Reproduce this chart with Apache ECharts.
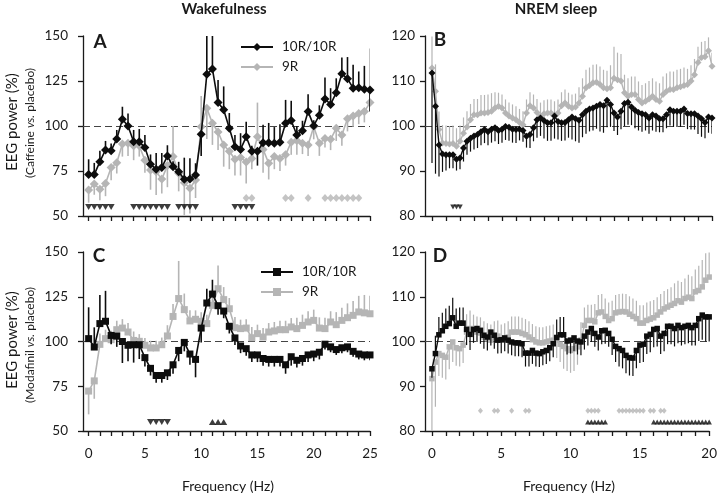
<!DOCTYPE html>
<html>
<head>
<meta charset="utf-8">
<script src="https://cdn.jsdelivr.net/npm/echarts@6/dist/echarts.min.js"></script>
<style>
html,body{margin:0;padding:0;background:#fff;}
#chart{width:720px;height:494px;}
</style>
</head>
<body>
<div id="chart"></div>
<script>
// ---------- frequency bins ----------
const wakeFreq = []; for (let i = 0; i <= 50; i++) wakeFreq.push(i * 0.5);   // 0..25 Hz
const nremFreq = []; for (let i = 0; i <= 80; i++) nremFreq.push(i * 0.25);  // 0..20 Hz
const wakeCats = ['-0.5'].concat(wakeFreq.map(String));
const nremCats = ['-0.5', '-0.25'].concat(nremFreq.map(String));

// ---------- Panel A: Wakefulness, caffeine vs placebo ----------
const aBlack = [73,73,80.2,86.7,86.3,92.8,103.7,100,91.3,91.3,88,78.7,76,77,83.3,77.4,74.6,70.4,70.6,72.8,
  95.4,128.7,131.7,113,109,98.7,88.5,87,94,86,86,90.7,90.7,90.4,91,101.5,103,95,97.4,108,
  100.2,106,115,112,118.5,129,126.3,121,121.3,120.4,120];
// signed SEM: + drawn upward, - drawn downward
const aBlackErr = [8.5,6.5,6,5,4,5,7,7,6.5,7,7,5.5,9,8,6,3,5.5,12,11.5,6.5,
  -12,22,19,12.6,13,8.5,6.5,9,8.4,3,-8,10,11,9,10,13,11,5,5.5,9.6,
  3,5.5,12,9,8,9,12,13,9,13,-12];
const aGray = [64.4,67.8,64.8,68,76.9,79.6,90,90.4,89,89,81,75.6,74.6,70.5,78,83,73.7,68.5,65.4,70,
  99.6,109.8,101.5,96.7,89.4,86,81.5,82.5,80,82,94,87,79.3,83,82,84,91,92,90.4,89.4,
  99.6,90.4,93,92.6,98.7,95,104,105.6,107,108,113];
const aGrayErr = [-7,-6,-6,-7,-7,-6,-7,-7,-8,-6,-7,-11,-13,-8,-12,17,-10,-18,-14,-10,
  17,-17,-12,-10,-12,-10,-9,-10,-12,-6,19,-13,-9,-7,-7,-6,-7,-8,-6,-6,
  -7,-7,-5,-6,-7,-6,-7,-6,-6,-6,30];
const aSigBlackDown = [0,0.5,1,1.5,2,4,4.5,5,5.5,6,6.5,7,8,8.5,9,9.5,13,13.5,14,14.5];
const aSigGray = [14,14.5,17.5,18,19.5,21,21.5,22,22.5,23,23.5,24];

// ---------- Panel B: NREM sleep, caffeine vs placebo ----------
const bBlack = [111.8,104.4,95.8,93.8,93.6,93.6,93.6,92.6,92.9,95.1,
  96.6,97.3,97.8,98.1,98.7,99.2,98.7,99.3,99.6,99,
  99.3,99.9,99.7,99.3,99.2,99.3,99,97.7,98.1,99.6,
  101.4,101.8,101.2,100.7,100.7,102.2,101,100.7,100.8,101.4,
  102,101.6,101.3,102.5,103.3,103.8,104,104.4,104.8,104.5,
  105.7,104.8,102.9,102,103.3,105,105.3,104.2,103.5,103,
  102.7,102.5,101.8,102.5,102.2,101.6,101.6,102.5,103.6,103.3,
  103.3,103.3,103.8,102.8,102.7,102.7,102.2,101.6,100.8,102,
  101.8];
const bBlackErr = [-20,-15,-7,-4,-3.5,-3,-3,-2.5,-2.5,-3,
  -3,-3,-3,-3,-3,-3,-3,-3,-3,-3,
  -3,-3,-3,-3,-3,-2.5,-2.5,-2.5,-3,-3,
  -4,-4,-4,-4,-4,-5,-4,-4,-4,-4,
  -5,-5,-5,-5,-5,-5,-5,-5,-6,-6,
  -6,-5,-4,-4,-4,-5,-5,-4,-4,-4,
  -4,-3.5,-3.5,-3.5,-3.5,-3,-3,-3,-3.5,-3.5,
  -3.5,-3.5,-3.5,-3.5,-3.5,-3.5,-4,-4,-3.5,-3.5,
  -3.5];
const bGray = [112.9,107.7,99.2,96.2,96.1,96,96.1,95.5,96.6,98.4,
  99.8,101.4,102.5,102.5,102.9,102.9,103,103.3,104,104.4,
  104,102.9,102.2,101.8,101.4,100.8,100.3,102.9,104.5,104,
  103,102.2,102.7,102.9,102.9,102.5,102.9,104.5,105.1,104.4,
  104,104.2,105.1,106.6,108.5,109,109.6,109.7,109.2,108.5,
  108.3,108.5,110.6,110.3,110,107.4,106.6,107,107,105.9,
  105.1,105.5,106,106.6,105.9,105.5,107,107.7,108.1,108.1,
  108.5,108.7,109,109.2,110,111.4,114.1,115.2,115.4,116.7,
  113.3];
const bGrayErr = [7,6,4,4,4,4,4,4,3.5,3.5,
  3.5,3.5,3.5,3.5,4,4,4,4,3.5,3,
  3,3,3,3,3,3,3,3,3,3,
  3,3,3,3,3,3,3,3,3,3,
  3,3,3.5,4,4,4,4,4,4,4,
  4,5,7,6,6,4,4,4,4,4,
  4,4,4,4,4,4,4,4,4,4,
  4,4,4,3.5,3.5,3.5,3.5,3.5,3.5,3,
  3];
const bSigBlackDown = [1.5,1.75,2];

// ---------- Panel C: Wakefulness, modafinil vs placebo ----------
const cBlack = [101.6,96.9,110,111.3,103.4,103,100,97.9,98.2,98.2,91,85,81,81,82.5,87,95,99.5,93,90,
  107.5,121.5,126.5,120,117,108.5,102,97.5,96,92.5,92.5,90.5,90,90,90,87,91.5,89.5,90.5,92.5,
  93,94,98.5,97,95.5,96.5,97,94.5,93,92.5,92.5];
const cBlackErr = [17.5,11,16,17,-5,-6,-12,-9,-10,-8,-5,-4,-4,-4,-4,-5,-6,-5,-6,-10,
  -8,8,8,-5,-4,-4,-4,-4,-4,-4,-4,-4,-4,-4,-4,-5,-5,-4,-4,-4,
  -4,-4,-3,-3,-3,-3,-3,-3,-3,-3,-3];
const cGray = [72.3,78,98.4,101.6,101,106.6,107.5,105.3,100.6,100.1,97.9,96.4,96.4,98.2,103.1,114,124,117.8,111.5,112.4,
  111.3,110,120.2,129.5,123.4,118.3,107.7,107.2,107.5,102.1,104.4,102.5,105.3,105.9,106.6,106.6,108.1,107.2,109,110.9,
  111.8,107.5,107.2,110.9,109.4,111.8,113.3,114.6,116.5,116,115.5];
const cGrayErr = [-13,-10,6,5,5,5,5,5,5,4,4,4,4,4,6,7,21,9,6,5,
  5,5,9,13,7,6,6,5,5,6,5,5,5,5,5,5,5,6,6,6,
  6,6,6,6,7,7,8,8,9,10,10];
const cSigBlackDown = [5.5,6,6.5,7];
const cSigBlackUp = [11,11.5,12];

// ---------- Panel D: NREM sleep, modafinil vs placebo ----------
const dBlack = [93.9,97.3,101.5,102.4,103.4,104,105.3,103.4,104.1,104.1,
  102.7,101.6,102.7,102.9,102.5,101.4,101,102.1,101.4,100.3,
  100.4,100.8,100.3,99.9,99.7,99.7,99.5,97.4,97.4,98,
  97.4,97.3,97.7,98,98.6,99.5,100.9,101.5,101.5,100.1,
  100.3,100.8,100.1,99.9,101.2,102.1,102.9,101.8,101,102.4,
  102.5,101.8,100.5,98.9,98.4,98,96.9,96.4,96.3,98,
  99.2,99.4,101.2,101.6,102.7,102.9,101.2,101.8,103.4,103.4,
  102.9,103.6,103.1,103.4,103.6,103.1,103.6,105.1,105.9,105.5,
  105.5];
const dBlackErr = [-2,4,4,4,4,4,4.5,4,3.5,3.5,
  -3.5,-3.5,-3,-3,-3,-3,-3,-3,-3,-3,
  -3,-3,-3,-3,-3,-3,-3,-3,-3,-3,
  -3,-3,-3,-3,-3,-3,4,4,4,-3,
  -3,-3,-3,-3,-3,-3,-3,-3,-3,-3,
  -3,-3,-3.5,-3.5,-4,-4,-4,-4,-4,-4,
  -4,-4,-4,-4,-4,-4,-4,-4,-4,-4,
  -4,-4,-4,-4,-4,-4,-4.5,-5,-5.5,-5.5,
  -5.5];
const dGray = [91.7,95.4,97.3,96.9,96.5,98.8,99.9,98.6,98.4,99.2,
  102.1,102.9,102.5,102.1,101.9,101,100.6,100.3,101,101.2,
  100.3,100.6,101,102.1,102.1,102.1,101.8,101.5,101,100.4,
  99.9,99.7,99.7,99.9,100.1,100.3,100.3,99.4,98.9,98.4,
  98,98.4,98.8,100.3,103.6,104.7,104.7,104.4,106.4,106.6,
  105.6,104.7,105.1,106.4,106.6,106.7,106.6,106.1,105.6,105.1,
  104.1,104.1,104.7,105,105.3,105.9,106.6,107.3,107.7,108.1,
  108.5,109.1,108.8,109.6,109.9,109.6,111.1,111.4,112.2,113.7,
  114.4];
const dGrayErr = [-12,-10,-5,-5,-5,-5,-4.5,-4,-4,-4,
  4,4,3.5,3.5,3.5,3.5,3.5,3.5,3.5,3.5,
  3.5,3.5,3.5,3.5,3.5,3.5,3.5,3.5,3.5,3.5,
  3.5,3.5,3.5,3.5,3.5,3.5,-4,-4,-5,-5,
  -5,-5,-4,4,4,3.5,3.5,4,4,4,
  4,4,4,4,4,4,4,4,4,4,
  4,4,4,4,4,4,4,4,4,4,
  4.5,4.5,4.5,4.5,5,5,5,5.5,6,6,
  5.5];
const dSigGray = [3.5,4.5,4.75,5.75,6.75,7,11.25,11.5,11.75,12,13.5,13.75,14,14.25,14.5,14.75,15,15.25,15.75,16,16.5,16.75];
const dSigBlackUp = [11.25,11.5,11.75,12,12.25,12.5,16,16.25,16.5,16.75,17,17.25,17.5,17.75,18,18.25,18.5,18.75,19,19.25,19.5,19.75,20];

// ---------- tick ranges ----------
const yTicksWake = {min: 50, max: 150, interval: 25};
const yTicksNrem = {min: 80, max: 120, interval: 10};

// ---------- styling ----------
const FONT = 'Lato, "DejaVu Sans", sans-serif';
const INK = '#1a1a1a';
const BLACK = '#0d0d0d';
const GRAY = '#b5b5b5';

const wakeIdx = h => Math.round((h + 0.5) / 0.5);
const nremIdx = h => Math.round((h + 0.5) / 0.25);

function xAxis(gi, cats, showLabels) {
  return {
    type: 'category', gridIndex: gi, data: cats, boundaryGap: false,
    axisLine: {show: true, onZero: false, lineStyle: {color: INK, width: 1.3}},
    axisTick: {show: true, length: 5, lineStyle: {color: INK, width: 1.3},
      interval: (i, v) => { const n = Number(v); return n >= 0 && Number.isInteger(n); }},
    axisLabel: {show: showLabels, margin: 16, fontFamily: FONT, fontSize: 13.5, color: INK,
      interval: (i, v) => { const n = Number(v); return n >= 0 && n % 5 === 0; }},
    splitLine: {show: false}
  };
}
function yAxis(gi, t, margin) {
  return {
    type: 'value', gridIndex: gi, min: t.min, max: t.max, interval: t.interval,
    axisLine: {show: true, lineStyle: {color: INK, width: 1.3}},
    axisTick: {show: true, length: 5, lineStyle: {color: INK, width: 1.3}},
    axisLabel: {margin: margin, fontFamily: FONT, fontSize: 13.5, color: INK},
    splitLine: {show: false}
  };
}
function lineSeries(name, gi, idxFn, freq, vals, color, symbol, size, lw, z, withRef) {
  const s = {
    name, type: 'line', xAxisIndex: gi, yAxisIndex: gi, z,
    data: vals.map((v, i) => [idxFn(freq[i]), v]),
    symbol, symbolSize: size, showSymbol: true, showAllSymbol: true,
    lineStyle: {color, width: lw}, itemStyle: {color},
    emphasis: {disabled: true}
  };
  if (withRef) {
    s.markLine = {silent: true, symbol: 'none', label: {show: false},
      lineStyle: {type: [7, 4], color: '#444', width: 1}, data: [{yAxis: 100}], z: 1};
  }
  return s;
}
function errSeries(gi, idxFn, freq, vals, errs, color, lw, z) {
  return {
    type: 'custom', xAxisIndex: gi, yAxisIndex: gi, clip: true, silent: true, z,
    data: vals.map((v, i) => [idxFn(freq[i]), v, v + errs[i]]),
    encode: {x: 0, y: [1, 2]},
    renderItem: (params, api) => {
      const a = api.coord([api.value(0), api.value(1)]);
      const b = api.coord([api.value(0), api.value(2)]);
      return {type: 'line', shape: {x1: a[0], y1: a[1], x2: b[0], y2: b[1]},
        style: {stroke: color, lineWidth: lw}};
    }
  };
}
function sigSeries(gi, idxFn, freqs, level, color, symbol, rotate, size) {
  return {
    type: 'scatter', xAxisIndex: gi, yAxisIndex: gi, z: 6, silent: true,
    data: freqs.map(h => [idxFn(h), level]),
    symbol, symbolRotate: rotate, symbolSize: size, itemStyle: {color}
  };
}

const series = [
  // A
  errSeries(0, wakeIdx, wakeFreq, aGray, aGrayErr, GRAY, 1.6, 2),
  lineSeries('9R', 0, wakeIdx, wakeFreq, aGray, GRAY, 'diamond', 9, 1.6, 3, false),
  errSeries(0, wakeIdx, wakeFreq, aBlack, aBlackErr, BLACK, 1.6, 4),
  lineSeries('10R/10R', 0, wakeIdx, wakeFreq, aBlack, BLACK, 'diamond', 9, 1.6, 5, true),
  sigSeries(0, wakeIdx, aSigBlackDown, 55, BLACK, 'triangle', 180, [7, 6]),
  sigSeries(0, wakeIdx, aSigGray, 60, GRAY, 'diamond', 0, [7, 8]),
  // B
  errSeries(1, nremIdx, nremFreq, bGray, bGrayErr, GRAY, 1.2, 2),
  lineSeries('B 9R', 1, nremIdx, nremFreq, bGray, GRAY, 'diamond', 7, 1.4, 3, false),
  errSeries(1, nremIdx, nremFreq, bBlack, bBlackErr, BLACK, 1.2, 4),
  lineSeries('B 10R/10R', 1, nremIdx, nremFreq, bBlack, BLACK, 'diamond', 7, 1.4, 5, true),
  sigSeries(1, nremIdx, bSigBlackDown, 82, BLACK, 'triangle', 180, [5.5, 5]),
  // C
  errSeries(2, wakeIdx, wakeFreq, cGray, cGrayErr, GRAY, 1.6, 2),
  lineSeries('9R ', 2, wakeIdx, wakeFreq, cGray, GRAY, 'rect', 7, 1.6, 3, false),
  errSeries(2, wakeIdx, wakeFreq, cBlack, cBlackErr, BLACK, 1.6, 4),
  lineSeries('10R/10R ', 2, wakeIdx, wakeFreq, cBlack, BLACK, 'rect', 7, 1.6, 5, true),
  sigSeries(2, wakeIdx, cSigBlackDown, 55, BLACK, 'triangle', 180, [7, 6]),
  sigSeries(2, wakeIdx, cSigBlackUp, 55, BLACK, 'triangle', 0, [7, 6]),
  // D
  errSeries(3, nremIdx, nremFreq, dGray, dGrayErr, GRAY, 1.2, 2),
  lineSeries('D 9R', 3, nremIdx, nremFreq, dGray, GRAY, 'rect', 5.5, 1.4, 3, false),
  errSeries(3, nremIdx, nremFreq, dBlack, dBlackErr, BLACK, 1.2, 4),
  lineSeries('D 10R/10R', 3, nremIdx, nremFreq, dBlack, BLACK, 'rect', 5.5, 1.4, 5, true),
  sigSeries(3, nremIdx, dSigGray, 84.5, GRAY, 'diamond', 0, [5, 6]),
  sigSeries(3, nremIdx, dSigBlackUp, 82, BLACK, 'triangle', 0, [5.5, 5])
];

function txt(x, y, text, font, extra) {
  return Object.assign({type: 'text', x, y, silent: true,
    style: {text, font, fill: INK, align: 'center', verticalAlign: 'middle',
      textAlign: 'center', textVerticalAlign: 'middle'}}, extra || {});
}
function subTitle(x, y, a, b) {
  return {type: 'text', x, y, rotation: Math.PI / 2, silent: true,
    style: {text: '{n|(' + a + ' }{i|vs.}{n| ' + b + ')}',
      rich: {n: {fontFamily: FONT, fontSize: 12, fill: INK, color: INK},
             i: {fontFamily: FONT, fontSize: 12, fontStyle: 'italic', fill: INK, color: INK}},
      align: 'center', verticalAlign: 'middle', textAlign: 'center', textVerticalAlign: 'middle'}};
}

const legendBase = {
  orient: 'vertical', itemWidth: 32, itemHeight: 10, itemGap: 4, selectedMode: false,
  textStyle: {fontFamily: FONT, fontSize: 13.5, color: INK, lineHeight: 16, padding: [0, 0, 0, 4]}
};

const option = {
  animation: false,
  backgroundColor: '#fff',
  grid: [
    {left: 83, top: 36, width: 287, height: 180},
    {left: 425, top: 36, width: 287, height: 180},
    {left: 83, top: 252, width: 287, height: 179},
    {left: 425, top: 252, width: 287, height: 179}
  ],
  xAxis: [xAxis(0, wakeCats, false), xAxis(1, nremCats, false), xAxis(2, wakeCats, true), xAxis(3, nremCats, true)],
  yAxis: [yAxis(0, yTicksWake, 15), yAxis(1, yTicksNrem, 10), yAxis(2, yTicksWake, 15), yAxis(3, yTicksNrem, 10)],
  legend: [
    Object.assign({left: 235, top: 34, data: ['10R/10R', '9R']}, legendBase),
    Object.assign({left: 255, top: 259, data: ['10R/10R ', '9R ']}, legendBase)
  ],
  graphic: [
    txt(224, 9, 'Wakefulness', 'bold 15px ' + FONT),
    txt(556, 9, 'NREM sleep', 'bold 15px ' + FONT),
    txt(100, 42, 'A', 'bold 19px ' + FONT),
    txt(440, 40, 'B', 'bold 19px ' + FONT),
    txt(99, 256, 'C', 'bold 19px ' + FONT),
    txt(440, 256, 'D', 'bold 19px ' + FONT),
    txt(12, 122, 'EEG power (%)', '15px ' + FONT, {rotation: Math.PI / 2}),
    subTitle(30, 123, 'Caffeine', 'placebo'),
    txt(12, 340, 'EEG power (%)', '15px ' + FONT, {rotation: Math.PI / 2}),
    subTitle(30, 345, 'Modafinil', 'placebo'),
    txt(228, 486, 'Frequency (Hz)', '14px ' + FONT),
    txt(569, 486, 'Frequency (Hz)', '14px ' + FONT)
  ],
  series
};

const chart = echarts.init(document.getElementById('chart'), null, {renderer: 'canvas'});
chart.setOption(option);
</script>
</body>
</html>
